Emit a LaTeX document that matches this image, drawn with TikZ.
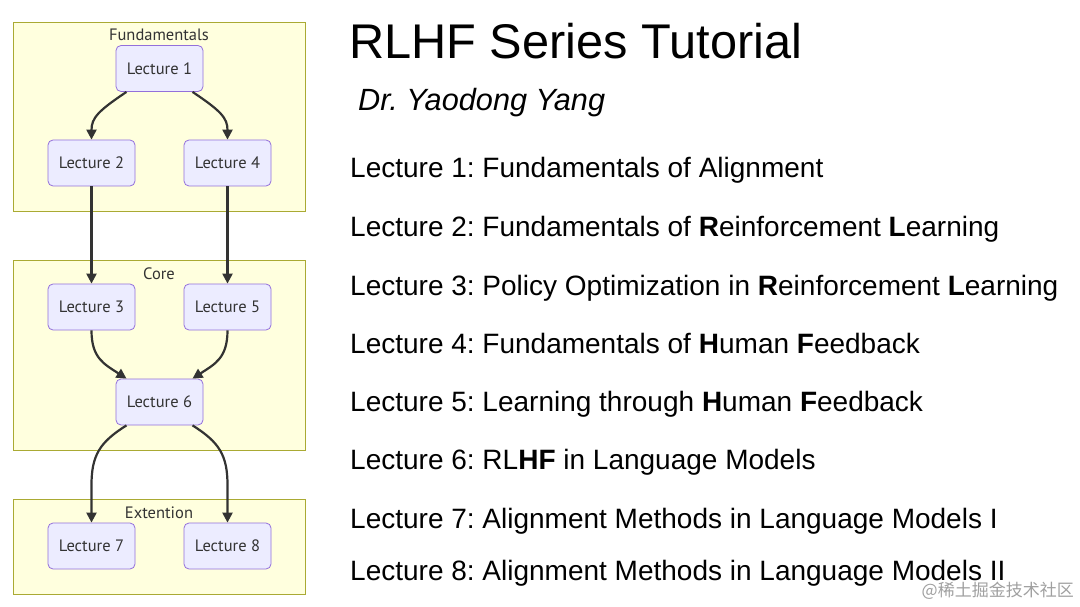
\documentclass[tikz,border=0pt]{standalone}
\usepackage{fontspec}
\setmainfont{Liberation Sans}
\newfontfamily\mmfont{PT Sans}
\newfontfamily\cjkfont{Noto Sans CJK SC}
\usetikzlibrary{arrows.meta}
\definecolor{clfill}{HTML}{FFFFDE}
\definecolor{cldraw}{HTML}{AAAA33}
\definecolor{ndfill}{HTML}{ECECFF}
\definecolor{nddraw}{HTML}{9370DB}
\definecolor{edgec}{HTML}{333333}
\definecolor{wmark}{HTML}{A0A0A0}
\frenchspacing
\begin{document}
\begin{tikzpicture}[x=1pt,y=-1pt,
  cluster/.style={draw=cldraw, fill=clfill, line width=0.8pt, inner sep=0},
  lec/.style={draw=nddraw, fill=ndfill, rounded corners=5pt, minimum width=87pt, minimum height=46pt, inner sep=0, font=\mmfont\fontsize{16.5}{18}\selectfont, text=edgec, line width=0.8pt},
  cltitle/.style={inner sep=0, font=\mmfont\fontsize{16.5}{18}\selectfont, text=edgec},
  link/.style={draw=edgec, line width=2.2pt, -{Triangle[length=10pt,width=10pt]}},
  rtext/.style={anchor=base west, inner sep=0, font=\fontsize{28}{32}\selectfont}]
\useasboundingbox[fill=white] (0,0) rectangle (1080,607);

% clusters
\node[cluster, minimum width=292pt, minimum height=189pt] (fund) at (159,116.5) {};
\node[cluster, minimum width=292pt, minimum height=190pt] (core) at (159,355) {};
\node[cluster, minimum width=292pt, minimum height=95pt] (ext) at (159,546.5) {};
\node[cltitle] (tfund) at (159,35) {Fundamentals};
\node[cltitle] (tcore) at (159,274) {Core};
\node[cltitle] (text) at (159,513) {Extention};

% lecture nodes
\node[lec] (L1) at (159.5,68.5) {Lecture 1};
\node[lec] (L2) at (91.5,163) {Lecture 2};
\node[lec] (L4) at (227.5,163) {Lecture 4};
\node[lec] (L3) at (91.5,307) {Lecture 3};
\node[lec] (L5) at (227.5,307) {Lecture 5};
\node[lec] (L6) at (159.5,402) {Lecture 6};
\node[lec] (L7) at (91.5,546) {Lecture 7};
\node[lec] (L8) at (227.5,546) {Lecture 8};

% edges
\draw[link] ([xshift=-33pt]L1.south) .. controls (98,111) and (91.5,118) .. (L2.north);
\draw[link] ([xshift=33pt]L1.south) .. controls (221,111) and (227.5,118) .. (L4.north);
\draw[link] (L2.south) -- (L3.north);
\draw[link] (L4.south) -- (L5.north);
\draw[link] (L3.south) .. controls (91.5,358) and (104,364) .. ([xshift=-33pt]L6.north);
\draw[link] (L5.south) .. controls (227.5,358) and (215,364) .. ([xshift=33pt]L6.north);
\draw[link] ([xshift=-33pt]L6.south) .. controls (100,442) and (91.5,455) .. (91.5,485) -- (L7.north);
\draw[link] ([xshift=33pt]L6.south) .. controls (219,442) and (227.5,455) .. (227.5,485) -- (L8.north);

% right side text
\node[anchor=base west, inner sep=0, font=\fontsize{48.7}{56}\selectfont] (title) at (349,59) {RLHF Series Tutorial};
\node[anchor=base west, inner sep=0, font=\itshape\fontsize{30.7}{36}\selectfont] (author) at (358,111) {Dr. Yaodong Yang};
\node[rtext] (r1) at (350,178) {Lecture 1: Fundamentals of Alignment};
\node[rtext] (r2) at (350,236.5) {Lecture 2: Fundamentals of \textbf{R}einforcement \textbf{L}earning};
\node[rtext] (r3) at (350,295) {Lecture 3: Policy Optimization in \textbf{R}einforcement \textbf{L}earning};
\node[rtext] (r4) at (350,353) {Lecture 4: Fundamentals of \textbf{H}uman \textbf{F}eedback};
\node[rtext] (r5) at (350,411) {Lecture 5: Learning through \textbf{H}uman \textbf{F}eedback};
\node[rtext] (r6) at (350,469.5) {Lecture 6: RL\textbf{HF} in Language Models};
\node[rtext] (r7) at (350,528) {Lecture 7: Alignment Methods in Language Models I};
\node[rtext] (r8) at (350,580) {Lecture 8: Alignment Methods in Language Models II};

% watermark
\node[anchor=east, inner sep=0, text=wmark, font=\cjkfont\fontsize{17}{19}\selectfont] (wm) at (1074,591) {@稀土掘金技术社区};
\end{tikzpicture}
\end{document}
